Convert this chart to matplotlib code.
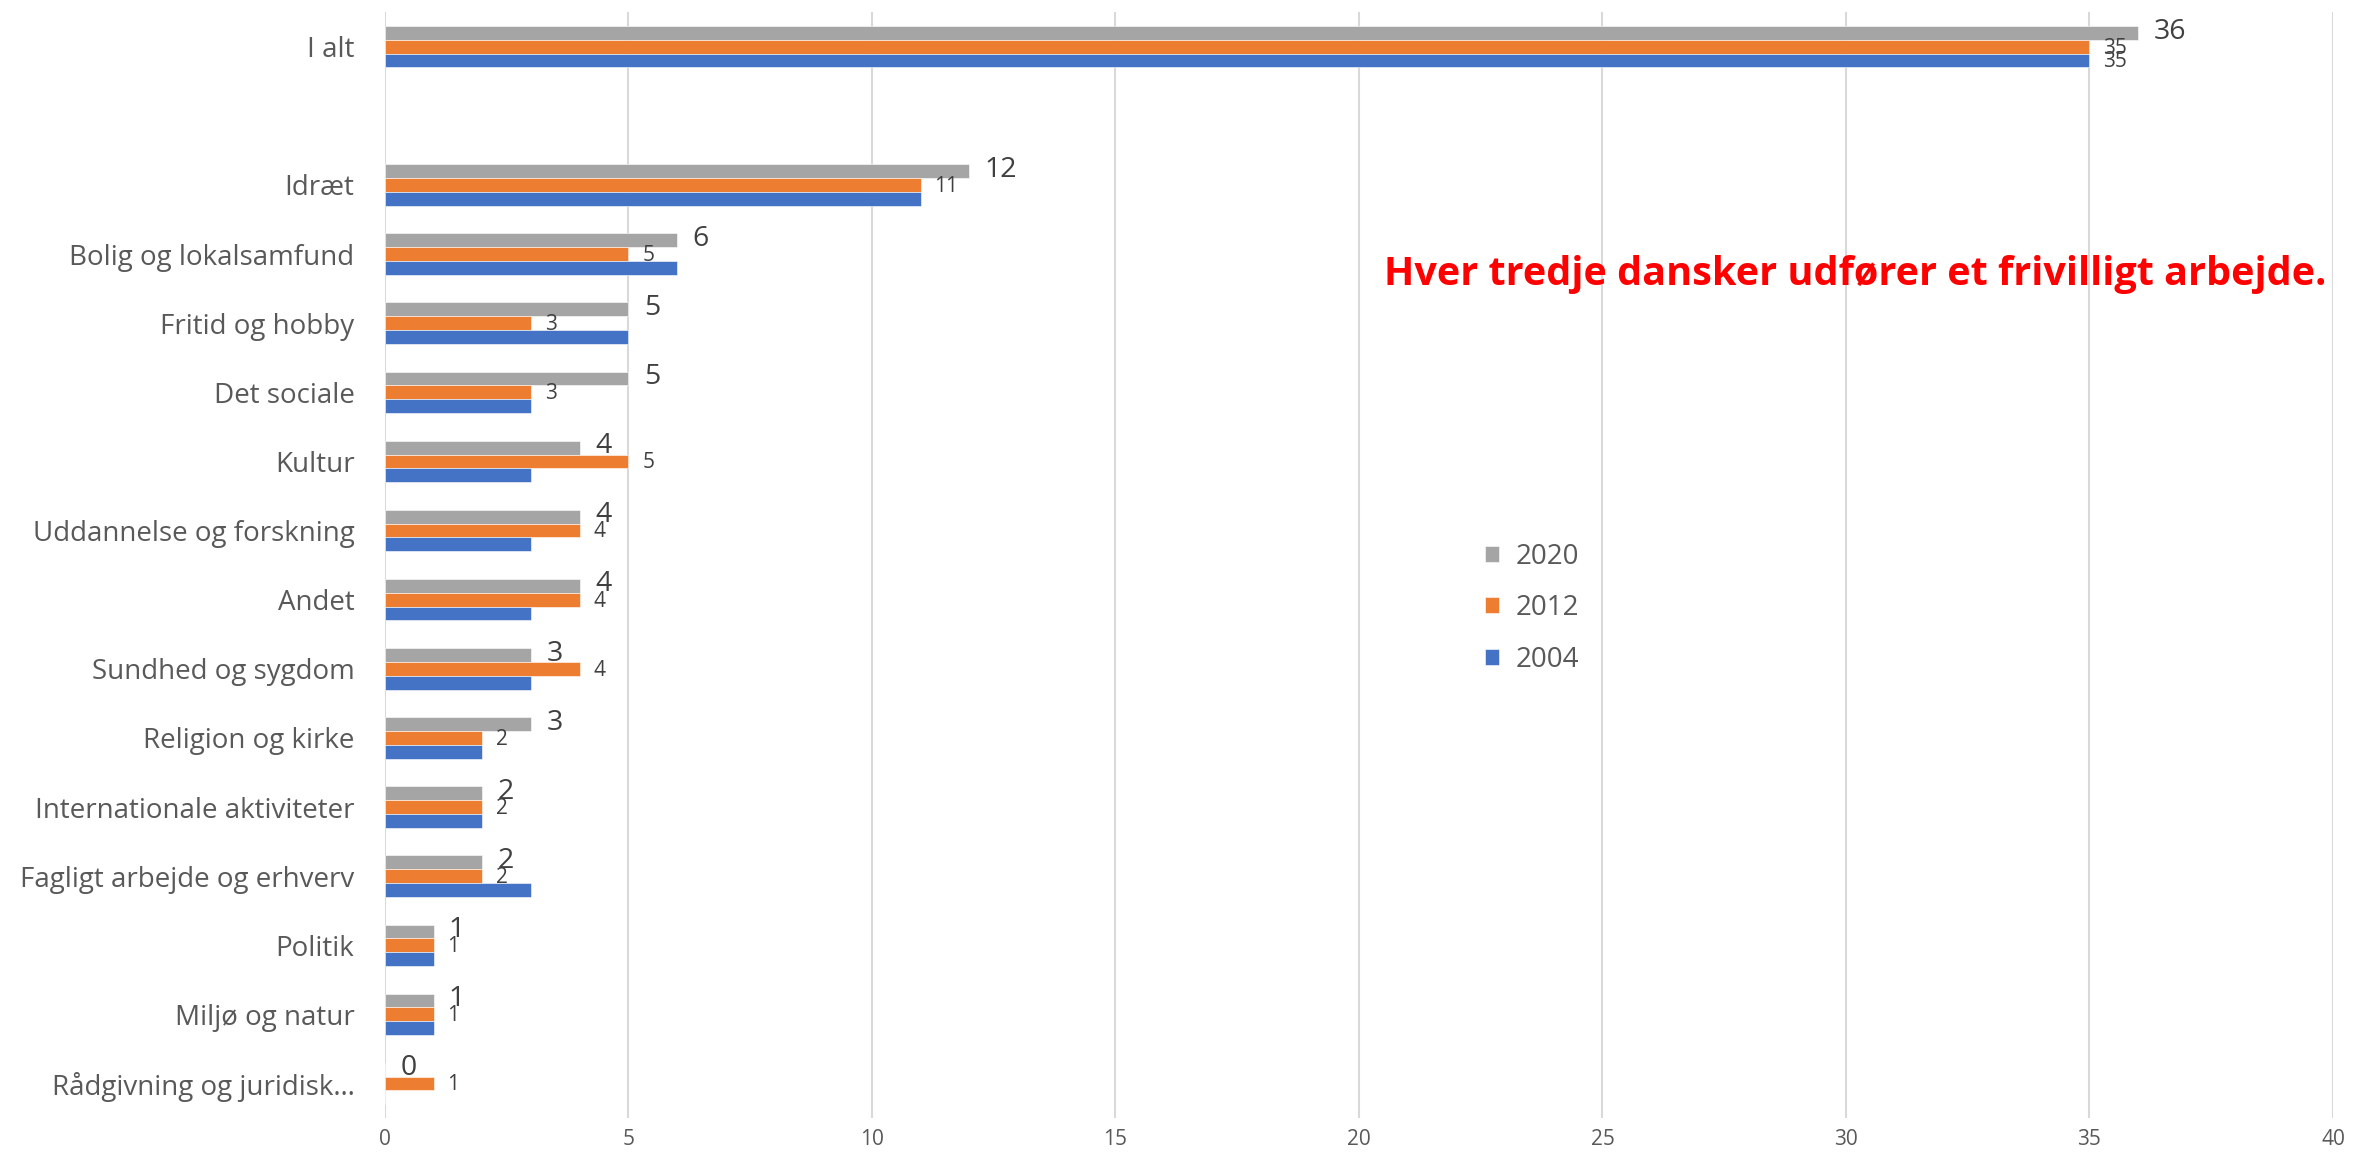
import numpy as np
import matplotlib.pyplot as plt

plt.rcParams['font.family'] = ['Open Sans', 'DejaVu Sans']

# data (percent of population doing voluntary work, by area)
categories = ['I alt', 'Idræt', 'Bolig og lokalsamfund', 'Fritid og hobby',
              'Det sociale', 'Kultur', 'Uddannelse og forskning', 'Andet',
              'Sundhed og sygdom', 'Religion og kirke',
              'Internationale aktiviteter', 'Fagligt arbejde og erhverv',
              'Politik', 'Miljø og natur', 'Rådgivning og juridisk…']
v2020 = [36, 12, 6, 5, 5, 4, 4, 4, 3, 3, 2, 2, 1, 1, 0]
v2012 = [35, 11, 5, 3, 3, 5, 4, 4, 4, 2, 2, 2, 1, 1, 1]
v2004 = [35, 11, 6, 5, 3, 3, 3, 3, 3, 2, 2, 3, 1, 1, 0]
years = ['2020', '2012', '2004']
colors = ['#A5A5A5', '#ED7D31', '#4472C4']

title = 'Hver tredje dansker udfører et frivilligt arbejde.'

fig = plt.figure(figsize=(23.53, 11.58), dpi=100)
ax = fig.add_axes([0.1636, 0.0345, 0.8279, 0.955])

# one empty slot after "I alt"
pos = np.array([0] + [i + 1 for i in range(1, len(categories))], dtype=float)
bh = 0.2
series = [v2020, v2012, v2004]
offsets = [-bh, 0, bh]
for vals, off, col, yr in zip(series, offsets, colors, years):
    ax.barh(pos + off, vals, height=bh, color=col, edgecolor='white',
            linewidth=0.4, label=yr, zorder=3)

# data labels
for p, v in zip(pos, v2020):
    ax.annotate(str(v), (v, p - bh), xytext=(11, 1), textcoords='offset points',
                ha='left', va='center', fontsize=20.5, color='#404040')
for p, v in zip(pos, v2012):
    ax.annotate(str(v), (v, p), xytext=(10, -1), textcoords='offset points',
                ha='left', va='center', fontsize=15, color='#404040')
ax.annotate(str(v2004[0]), (v2004[0], pos[0] + bh), xytext=(10, -1),
            textcoords='offset points', ha='left', va='center',
            fontsize=15, color='#404040')

ax.set_xlim(0, 40)
ax.set_ylim(len(categories) + 0.5, -0.5)
ax.set_xticks(range(0, 41, 5))
ax.set_yticks(pos)
ax.set_yticklabels(categories)
ax.tick_params(axis='y', length=0, pad=22, labelsize=20, labelcolor='#595959')
ax.tick_params(axis='x', length=0, pad=8, labelsize=15, labelcolor='#595959')
ax.grid(axis='x', color='#D9D9D9', linewidth=1.5, zorder=0)
for s in ax.spines.values():
    s.set_visible(False)

ax.text(0.9965, 0.7625, title, transform=ax.transAxes, ha='right', va='center',
        fontsize=28.5, fontweight='bold', color='#FF0000')

handles, labels = ax.get_legend_handles_labels()
leg = ax.legend(handles, labels, loc='center left', bbox_to_anchor=(0.552, 0.461),
                frameon=False, fontsize=20, labelcolor='#595959',
                handlelength=0.5, handleheight=0.5, handletextpad=0.6,
                labelspacing=0.85)

fig.savefig('out.png', dpi=100)
